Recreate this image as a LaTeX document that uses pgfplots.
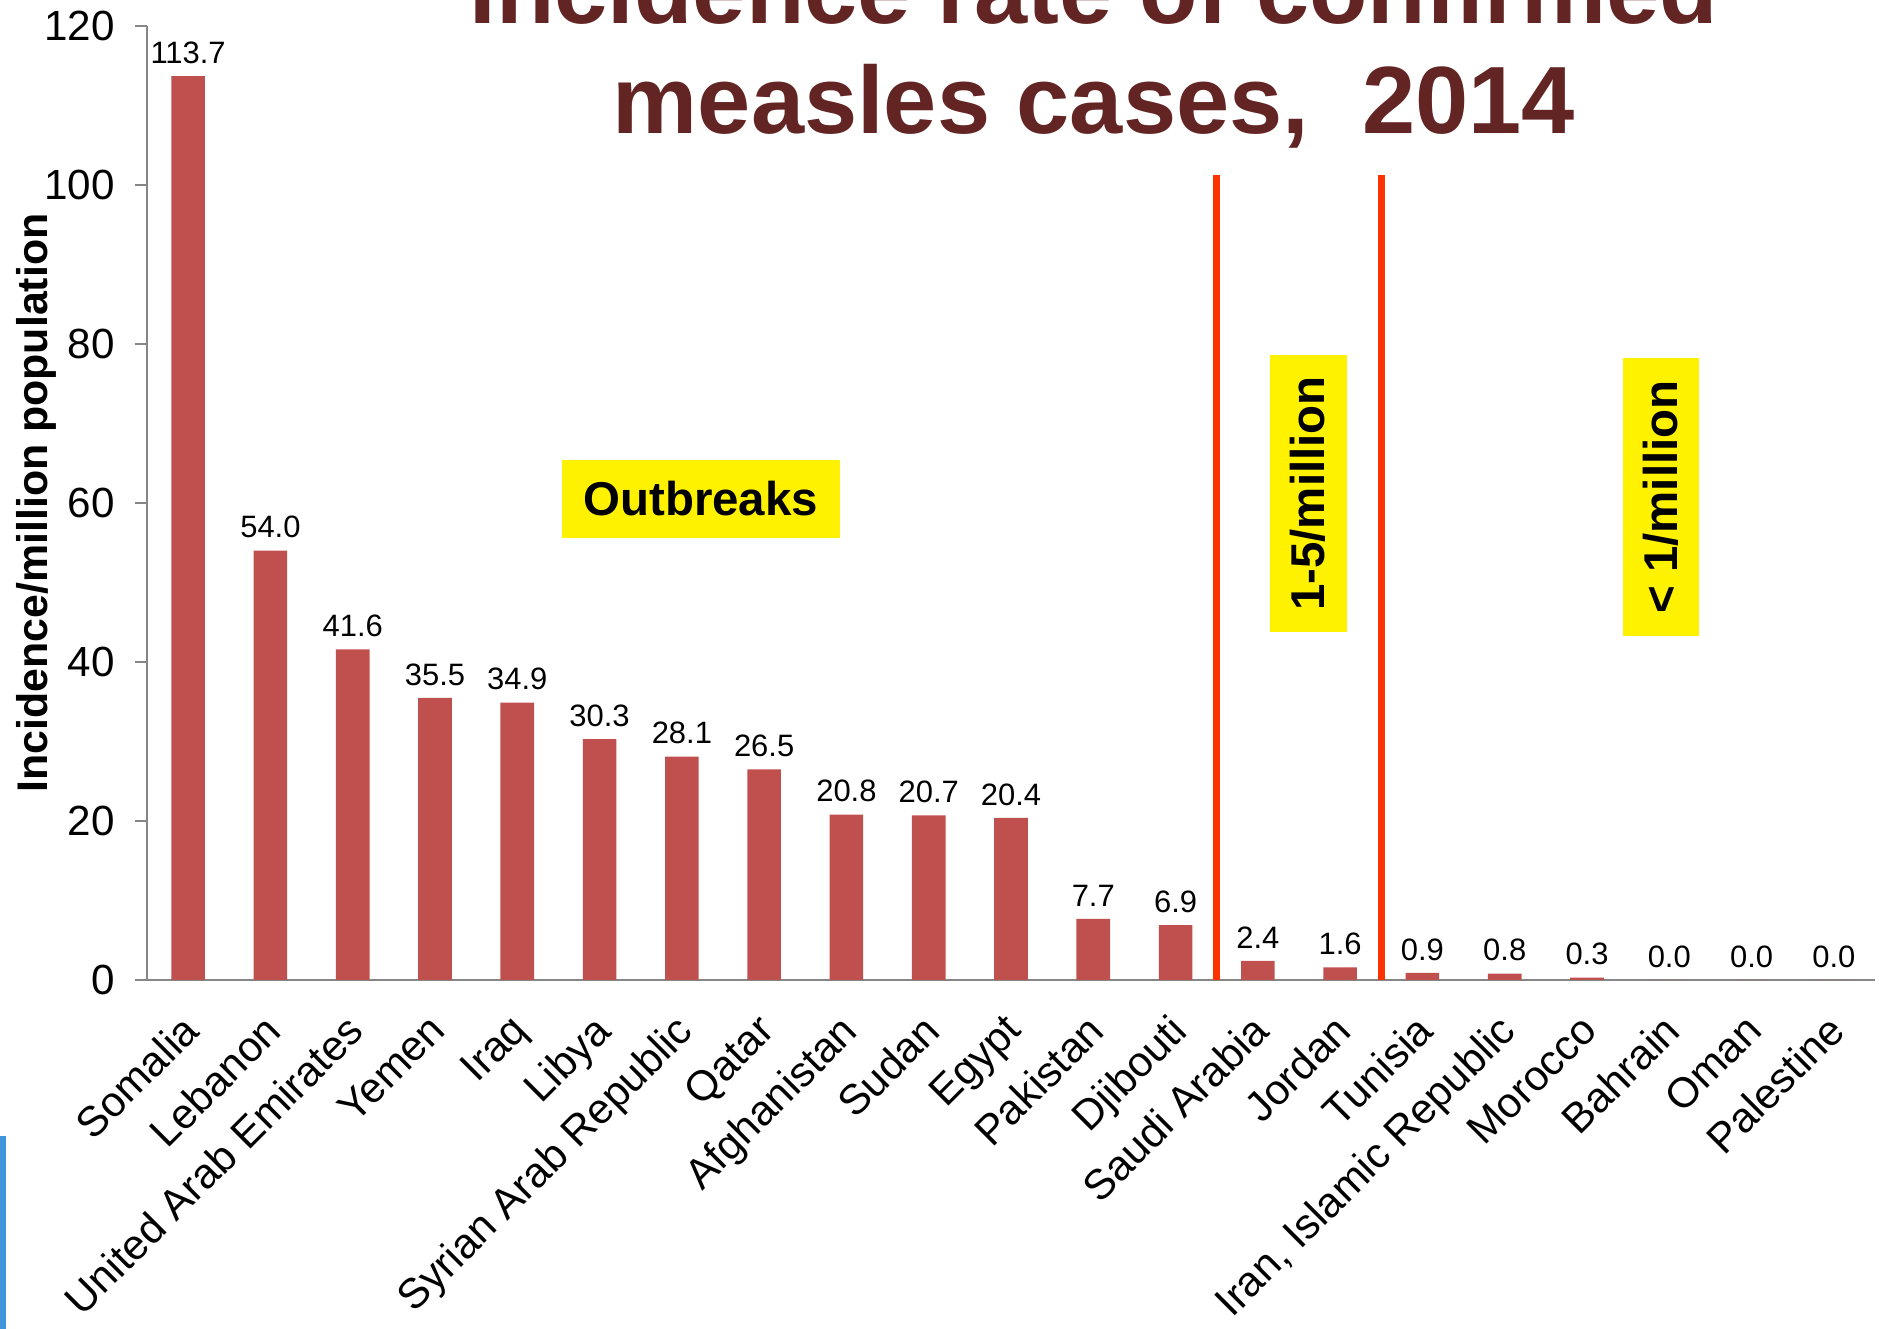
\documentclass[border=0pt]{standalone}
\usepackage{fontspec}
\setmainfont{Liberation Sans}
\usepackage{pgfplots}
\pgfplotsset{compat=1.18}
\definecolor{barred}{HTML}{C0504D}
\definecolor{titlered}{HTML}{632523}
\definecolor{linered}{HTML}{FF3300}
\definecolor{axisgray}{HTML}{868686}
\definecolor{sideblue}{HTML}{3F97D9}
\begin{document}
\begin{tikzpicture}
\begin{axis}[
  at={(14.7mm,34.9mm)}, anchor=south west,
  scale only axis, width=172.8mm, height=95.4mm,
  xmin=-0.5, xmax=20.5, ymin=0, ymax=120,
  axis x line*=bottom, axis y line*=left,
  axis line style={axisgray, line width=0.25mm},
  ytick={0,20,...,120},
  xtick={0,...,20},
  xticklabels={Somalia,Lebanon,United Arab Emirates,Yemen,Iraq,Libya,Syrian Arab Republic,Qatar,Afghanistan,Sudan,Egypt,Pakistan,Djibouti,Saudi Arabia,Jordan,Tunisia,{Iran, Islamic Republic},Morocco,Bahrain,Oman,Palestine},
  minor xtick={-0.5,0.5,...,20.5},
  tick align=outside,
  major tick length=1.2mm, minor tick length=1.2mm,
  xtick style={draw=none},
  minor x tick style={axisgray, line width=0.25mm},
  ytick style={axisgray, line width=0.25mm},
  x tick label style={rotate=45, anchor=north east, font=\fontsize{12}{12}\selectfont, inner sep=1pt, xshift=-1.6mm, yshift=-0.4mm},
  y tick label style={font=\fontsize{12}{12}\selectfont, xshift=-0.8mm},
  /pgf/number format/assume math mode=true,
  ylabel={Incidence/million population},
  every axis y label/.style={at={(axis description cs:-0.0642,0.5)}, rotate=90, anchor=center, font=\bfseries\fontsize{12.2}{12.2}\selectfont},
  clip=false,
]
\addplot[ybar, bar width=3.36mm, fill=barred, draw=none,
  nodes near coords={\pgfmathprintnumber[fixed,fixed zerofill,precision=1,assume math mode=true]{\pgfplotspointmeta}},
  nodes near coords style={font=\fontsize{8.8}{8.8}\selectfont, black}]
coordinates {(0,113.7) (1,54.0) (2,41.6) (3,35.5) (4,34.9) (5,30.3) (6,28.1) (7,26.5) (8,20.8) (9,20.7) (10,20.4) (11,7.7) (12,6.9) (13,2.4) (14,1.6) (15,0.9) (16,0.8) (17,0.3) (18,0) (19,0) (20,0)};
\addplot[linered, line width=0.7mm, sharp plot, forget plot] coordinates {(12.5,0) (12.5,101.2)};
\addplot[linered, line width=0.7mm, sharp plot, forget plot] coordinates {(14.5,0) (14.5,101.2)};
\node[fill=yellow, minimum width=27.8mm, minimum height=7.8mm, inner sep=0pt, font=\bfseries\fontsize{13.5}{13.5}\selectfont] at (axis cs:6.23,60.5) {Outbreaks};
\node[fill=yellow, rotate=90, minimum width=27.7mm, minimum height=7.7mm, inner sep=0pt, font=\bfseries\fontsize{13.5}{13.5}\selectfont] at (axis cs:13.61,61.2) {1-5/million};
\node[fill=yellow, rotate=90, minimum width=27.8mm, minimum height=7.6mm, inner sep=0pt, font=\bfseries\fontsize{13.5}{13.5}\selectfont] at (axis cs:17.90,60.75) {< 1/million};
\end{axis}
\node[anchor=base, text=titlered, font=\bfseries\fontsize{27.2}{27.2}\selectfont] at (109.4mm,130.5mm) {Incidence rate of confirmed};
\node[anchor=base, text=titlered, font=\bfseries\fontsize{27.2}{27.2}\selectfont] at (109.4mm,119.5mm) {measles cases,\ \ 2014};
\fill[sideblue] (0,0) rectangle (0.6mm,19.3mm);
\pgfresetboundingbox
\useasboundingbox (0,0) rectangle (187.9mm,132.9mm);
\end{tikzpicture}
\end{document}
